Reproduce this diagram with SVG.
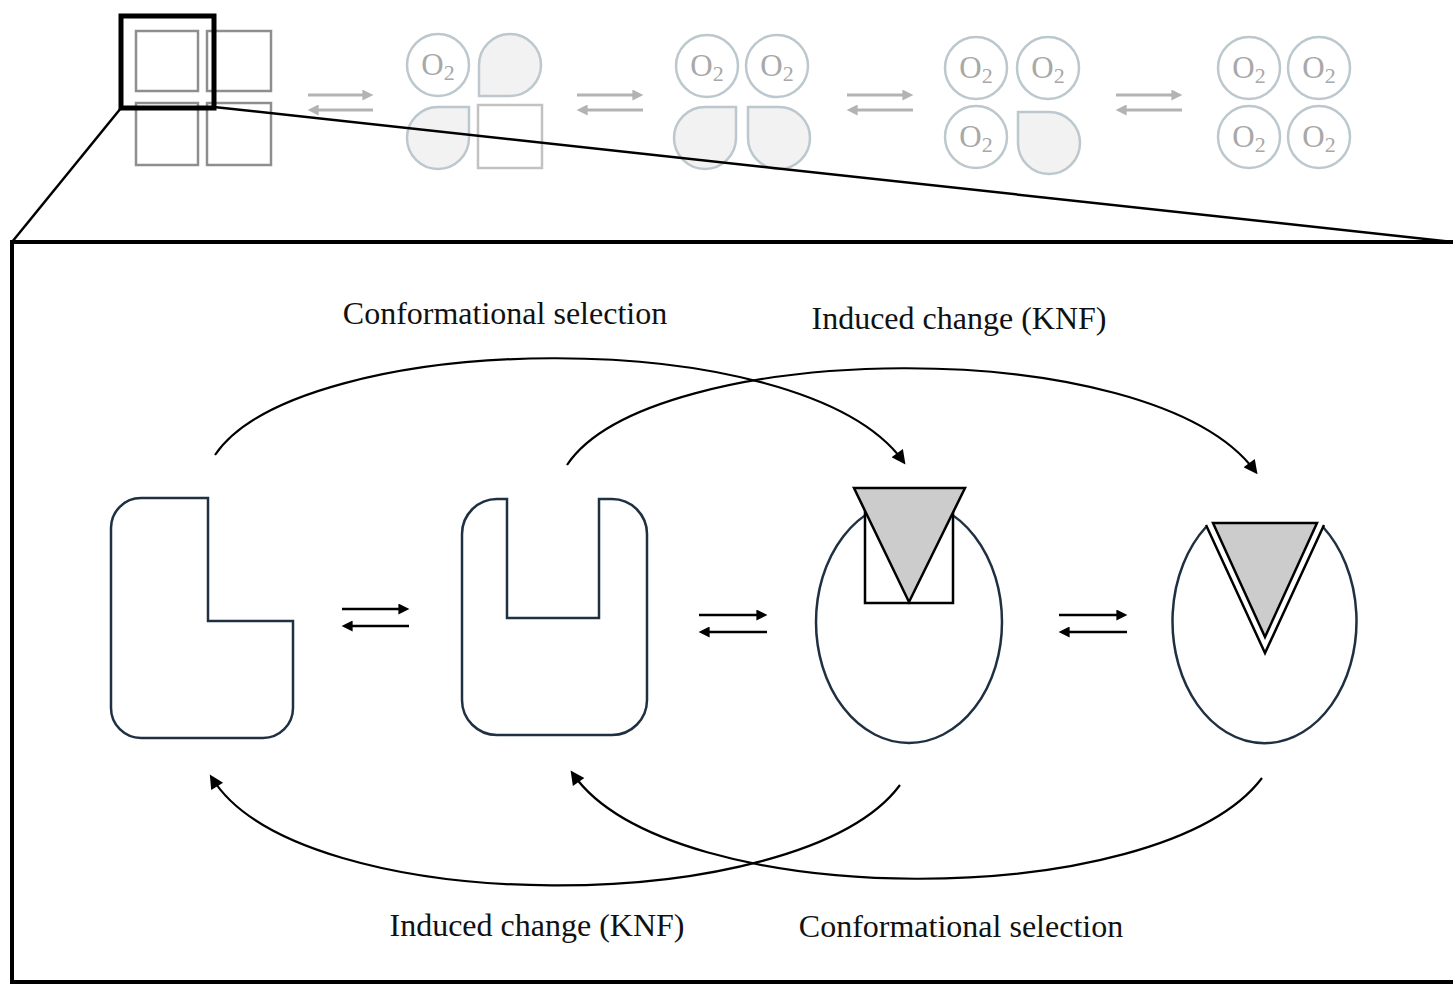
<svg xmlns="http://www.w3.org/2000/svg" width="1453" height="985" viewBox="0 0 1453 985">
<style>
.gsq{fill:none;stroke:#8e8e8e;stroke-width:2.5}
.lsq{fill:none;stroke:#c2c2c2;stroke-width:2.5}
.circ{fill:#fff;stroke:#bcc8ce;stroke-width:2.5}
.tear{fill:#f2f2f2;stroke:#bcc8ce;stroke-width:2.5}
.o2{font-family:"Liberation Serif",serif;font-size:31px;fill:#a8a8a8;text-anchor:middle}
.garr{stroke:#b3b3b3;stroke-width:3;fill:none;marker-end:url(#ahg)}
.barr{stroke:#000;stroke-width:2.5;fill:none;marker-end:url(#ah)}
.curve{stroke:#000;stroke-width:2.2;fill:none;marker-end:url(#ahc)}
.shape{fill:#fff;stroke:#1f3042;stroke-width:2.5;stroke-linejoin:miter}
.tri{fill:#cccccc;stroke:#000;stroke-width:2.5;stroke-linejoin:miter}
.lbl{font-family:"Liberation Serif",serif;font-size:32px;fill:#111;text-anchor:middle}
</style>
<defs>
<marker id="ah" viewBox="0 0 10 10" refX="6" refY="5" markerWidth="13" markerHeight="11" markerUnits="userSpaceOnUse" orient="auto"><path d="M0,0 L10,5 L0,10 Z" fill="#000"/></marker>
<marker id="ahg" viewBox="0 0 10 10" refX="6" refY="5" markerWidth="13" markerHeight="11" markerUnits="userSpaceOnUse" orient="auto"><path d="M0,0 L10,5 L0,10 Z" fill="#b3b3b3"/></marker>
<marker id="ahc" viewBox="0 0 10 10" refX="7" refY="5" markerWidth="17" markerHeight="14" markerUnits="userSpaceOnUse" orient="auto"><path d="M0,0 L10,5 L0,10 Z" fill="#000"/></marker>
</defs>
<rect width="1453" height="985" fill="#fff"/>

<g id="state0">
<rect class="gsq" x="136" y="31" width="62" height="60"/>
<rect class="gsq" x="207" y="31" width="64" height="60"/>
<rect class="gsq" x="136" y="103" width="62" height="62"/>
<rect class="gsq" x="207" y="103" width="64" height="62"/>
</g>
<g id="state1">
<circle class="circ" cx="438" cy="65" r="31"/>
<text class="o2" x="438" y="75">O<tspan font-size="22" dy="5">2</tspan></text>
<path class="tear" d="M479,65 A31,31 0 1 1 510,96 L479,96 Z"/>
<path class="tear" d="M438,107 L469,107 L469,138 A31,31 0 1 1 438,107 Z"/>
<rect class="lsq" x="478" y="105" width="64" height="63"/>
</g>
<g id="state2">
<circle class="circ" cx="707" cy="66" r="31"/>
<text class="o2" x="707" y="76">O<tspan font-size="22" dy="5">2</tspan></text>
<circle class="circ" cx="777" cy="66" r="31"/>
<text class="o2" x="777" y="76">O<tspan font-size="22" dy="5">2</tspan></text>
<path class="tear" d="M705,107 L736,107 L736,138 A31,31 0 1 1 705,107 Z"/>
<path class="tear" d="M748,138 L748,107 L779,107 A31,31 0 1 1 748,138 Z"/>
</g>
<g id="state3">
<circle class="circ" cx="976" cy="68" r="31"/>
<text class="o2" x="976" y="78">O<tspan font-size="22" dy="5">2</tspan></text>
<circle class="circ" cx="1048" cy="68" r="31"/>
<text class="o2" x="1048" y="78">O<tspan font-size="22" dy="5">2</tspan></text>
<circle class="circ" cx="976" cy="137" r="31"/>
<text class="o2" x="976" y="147">O<tspan font-size="22" dy="5">2</tspan></text>
<path class="tear" d="M1018,143 L1018,112 L1049,112 A31,31 0 1 1 1018,143 Z"/>
</g>
<g id="state4">
<circle class="circ" cx="1249" cy="68" r="31"/>
<text class="o2" x="1249" y="78">O<tspan font-size="22" dy="5">2</tspan></text>
<circle class="circ" cx="1319" cy="68" r="31"/>
<text class="o2" x="1319" y="78">O<tspan font-size="22" dy="5">2</tspan></text>
<circle class="circ" cx="1249" cy="137" r="31"/>
<text class="o2" x="1249" y="147">O<tspan font-size="22" dy="5">2</tspan></text>
<circle class="circ" cx="1319" cy="137" r="31"/>
<text class="o2" x="1319" y="147">O<tspan font-size="22" dy="5">2</tspan></text>
</g>

<g id="zoom">
<rect x="121" y="16" width="93" height="92" fill="none" stroke="#000" stroke-width="5"/>
<line x1="121" y1="108" x2="12" y2="242" stroke="#000" stroke-width="2.5"/>
<line x1="214" y1="107" x2="1453" y2="242" stroke="#000" stroke-width="2.5"/>
<rect x="12" y="242" width="1460" height="740" fill="none" stroke="#000" stroke-width="4"/>
</g>

<g id="L-shape">
<path class="shape" d="M141,498 L208,498 L208,621 L293,621 L293,708 A30,30 0 0 1 263,738 L141,738 A30,30 0 0 1 111,708 L111,528 A30,30 0 0 1 141,498 Z"/>
</g>
<g id="U-shape">
<path class="shape" d="M497,499 L507,499 L507,618 L599,618 L599,499 L612,499 A35,35 0 0 1 647,534 L647,700 A35,35 0 0 1 612,735 L497,735 A35,35 0 0 1 462,700 L462,534 A35,35 0 0 1 497,499 Z"/>
</g>
<g id="oval-square">
<ellipse class="shape" cx="909" cy="622" rx="93" ry="121"/>
<rect x="865" y="505" width="88" height="98" fill="#fff" stroke="#000" stroke-width="2.5"/>
<polygon class="tri" points="854,488 965,488 909,602"/>
</g>
<g id="oval-notch">
<path class="shape" d="M1206,527 A92,122 0 1 0 1323,527"/>
<polygon points="1206,525 1324,525 1265,654" fill="#fff" stroke="none"/>
<polyline points="1206,525 1265,653 1324,525" fill="none" stroke="#000" stroke-width="2.5"/>
<polygon class="tri" points="1213,523 1317,523 1265,637"/>
</g>

<g id="connectors">
<line class="garr" x1="308" y1="95" x2="369" y2="95"/>
<line class="garr" x1="373" y1="110" x2="312" y2="110"/>
<line class="garr" x1="577" y1="95" x2="639" y2="95"/>
<line class="garr" x1="643" y1="110" x2="581" y2="110"/>
<line class="garr" x1="847" y1="95" x2="909" y2="95"/>
<line class="garr" x1="913" y1="110" x2="851" y2="110"/>
<line class="garr" x1="1116" y1="95" x2="1178" y2="95"/>
<line class="garr" x1="1182" y1="110" x2="1120" y2="110"/>

<line class="barr" x1="342" y1="609" x2="405" y2="609"/>
<line class="barr" x1="409" y1="626" x2="346" y2="626"/>
<line class="barr" x1="699" y1="615" x2="763" y2="615"/>
<line class="barr" x1="767" y1="632" x2="703" y2="632"/>
<line class="barr" x1="1059" y1="615" x2="1123" y2="615"/>
<line class="barr" x1="1127" y1="632" x2="1063" y2="632"/>

<path class="curve" d="M215,455 C300,330 800,320 903,461"/>
<path class="curve" d="M567,465 C650,340 1150,330 1255,471"/>
<path class="curve" d="M900,785 C800,920 300,920 212,778"/>
<path class="curve" d="M1262,778 C1160,913 670,913 573,774"/>
</g>

<g id="labels">
<text class="lbl" x="505" y="324">Conformational selection</text>
<text class="lbl" x="959" y="329">Induced change (KNF)</text>
<text class="lbl" x="537" y="936">Induced change (KNF)</text>
<text class="lbl" x="961" y="937">Conformational selection</text>
</g>
</svg>
